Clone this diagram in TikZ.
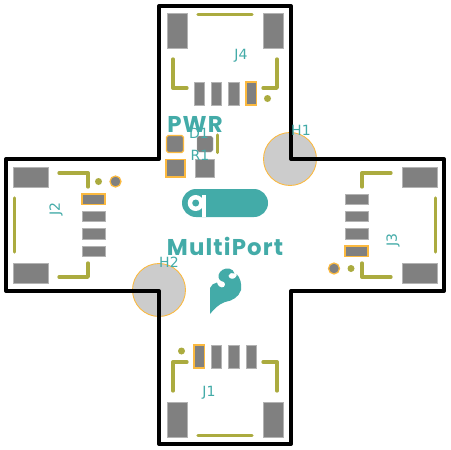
\documentclass[tikz,border=0pt]{standalone}
\usepackage{fontspec}
\setmainfont{DejaVu Sans}
\newfontfamily\silkfont[LetterSpace=5]{Poppins}
\usetikzlibrary{arrows.meta, positioning, calc}
\definecolor{padGray}{HTML}{808080}
\definecolor{silkOlive}{HTML}{ABAB3F}
\definecolor{boardTeal}{HTML}{43ABA8}
\definecolor{padOrange}{HTML}{FBB93F}
\definecolor{holeGray}{HTML}{CCCCCC}
\begin{document}
\begin{tikzpicture}[
    x=0.02cm, y=-0.02cm,
    pad/.style={fill=padGray, draw=padGray!60, line width=0.15pt},
    pinone/.style={fill=padGray, draw=padOrange, line width=0.7pt},
    hole/.style={fill=holeGray, draw=padOrange, line width=0.5pt},
    silk/.style={draw=silkOlive, line width=1.9pt, line cap=round, line join=round},
    dotmark/.style={fill=silkOlive, draw=none},
    reflabel/.style={text=boardTeal, font=\fontsize{8}{9}\selectfont, inner sep=0pt},
    logotext/.style={text=boardTeal, font=\silkfont\bfseries\fontsize{#1}{#1}\selectfont, inner sep=0pt},
  ]
    \useasboundingbox (0,0) rectangle (450,450);
    \fill[white] (0,0) rectangle (450,450);
    % mounting holes under the outline
    \filldraw[hole] (290,159) circle (26.5);
    \filldraw[hole] (159,290) circle (26.5);
    % outline
    \draw[black, line width=2.3pt, line join=round] (159,6) -- (291,6) -- (291,159) -- (444,159) -- (444,291)
      -- (291,291) -- (291,444) -- (159,444) -- (159,291) -- (6,291) -- (6,159) -- (159,159) -- cycle;
    % J4 and J1
    \foreach \px in {167,263} {
      \filldraw[pad] (\px,13) rectangle ++(20.5,35);
      \filldraw[pad] (\px,402) rectangle ++(20.5,35);
    }
    \foreach \px in {194,211,228.5} \filldraw[pad] (\px,82) rectangle ++(10.5,23);
    \filldraw[pinone] (246,82) rectangle ++(10.5,23);
    \filldraw[pinone] (194,345) rectangle ++(10.5,23);
    \foreach \px in {211,228.5,246} \filldraw[pad] (\px,345) rectangle ++(10.5,23);
    \draw[silk] (198,14.5) -- (252,14.5);
    \draw[silk] (198,435.5) -- (252,435.5);
    \draw[silk] (173,59) -- (173,88) -- (187,88);
    \draw[silk] (277,59) -- (277,88) -- (263,88);
    \draw[silk] (173,391) -- (173,362) -- (187,362);
    \draw[silk] (277,391) -- (277,362) -- (263,362);
    \fill[dotmark] (267.5,98.5) circle (3.5);
    \fill[dotmark] (181.5,351) circle (3.5);
    % J2 and J3
    \foreach \py in {167,263} {
      \filldraw[pad] (13,\py) rectangle ++(35,20.5);
      \filldraw[pad] (402,\py) rectangle ++(35,20.5);
    }
    \filldraw[pinone] (82,194) rectangle ++(23,10.5);
    \foreach \py in {211,228.5,246} \filldraw[pad] (82,\py) rectangle ++(23,10.5);
    \foreach \py in {194,211,228.5} \filldraw[pad] (345,\py) rectangle ++(23,10.5);
    \filldraw[pinone] (345,246) rectangle ++(23,10.5);
    \draw[silk] (14.5,198) -- (14.5,252);
    \draw[silk] (435.5,198) -- (435.5,252);
    \draw[silk] (59,173) -- (88,173) -- (88,187);
    \draw[silk] (59,277) -- (88,277) -- (88,263);
    \draw[silk] (391,173) -- (362,173) -- (362,187);
    \draw[silk] (391,277) -- (362,277) -- (362,263);
    \fill[dotmark] (98.5,181.5) circle (3.5);
    \fill[dotmark] (351,268.5) circle (3.5);
    \filldraw[pinone] (115.5,181.5) circle (5.5);
    \filldraw[pinone] (334,268.5) circle (5.5);
    % power led and resistor
    \node[logotext=13] (pwr) at (195,124) {PWR};
    \filldraw[pinone, rounded corners=1pt] (166.5,135.5) rectangle ++(17,17);
    \filldraw[pad, rounded corners=1pt] (197,136) rectangle ++(16,16);
    \filldraw[pinone] (166,159.5) rectangle ++(19,17.5);
    \filldraw[pad] (195.5,159.5) rectangle ++(18.5,17.5);
    \draw[silk] (217.5,135) -- (217.5,152.5);
    % logo
    \fill[boardTeal, rounded corners=0.28cm] (182,189) rectangle (268,217);
    \fill[white] (195.7,203) circle (8);
    \fill[white] (202,195) rectangle (206,217);
    \fill[boardTeal] (195.7,203) circle (3.5);
    \node[logotext=13] (multiport) at (225,246) {MultiPort};
    \fill[boardTeal] (210,314) -- (210,288) .. controls (211,285) and (214,283) .. (217,282.5)
      .. controls (217.5,286) and (221,288.5) .. (224,287) .. controls (226,285.5) and (225.5,283) .. (224,282)
      .. controls (220,281) and (218,279) .. (218.5,275) .. controls (220,270) and (225,268) .. (229,268.5)
      .. controls (232,269) and (234,271) .. (234.5,273.5) .. controls (232,272) and (229,273) .. (228.5,275.5)
      .. controls (228,278) and (232,280) .. (235,278) .. controls (236.5,277) and (237,275.5) .. (236.5,274)
      .. controls (240,277) and (242,284) .. (241,290) .. controls (239,297) and (232,301) .. (225,302)
      .. controls (219,304) and (214,309) .. (210,314) -- cycle;
    % reference designators
    \node[reflabel] (labelJ4) at (241,56) {J4};
    \node[reflabel] (labelJ1) at (209,393) {J1};
    \node[reflabel, rotate=90] (labelJ2) at (56,209) {J2};
    \node[reflabel, rotate=90] (labelJ3) at (393,240) {J3};
    \node[reflabel] (labelH1) at (301,130) {H1};
    \node[reflabel] (labelH2) at (169,262) {H2};
    \node[reflabel] (labelD1) at (199,133) {D1};
    \node[reflabel] (labelR1) at (200,155) {R1};
  \end{tikzpicture}
\end{document}
